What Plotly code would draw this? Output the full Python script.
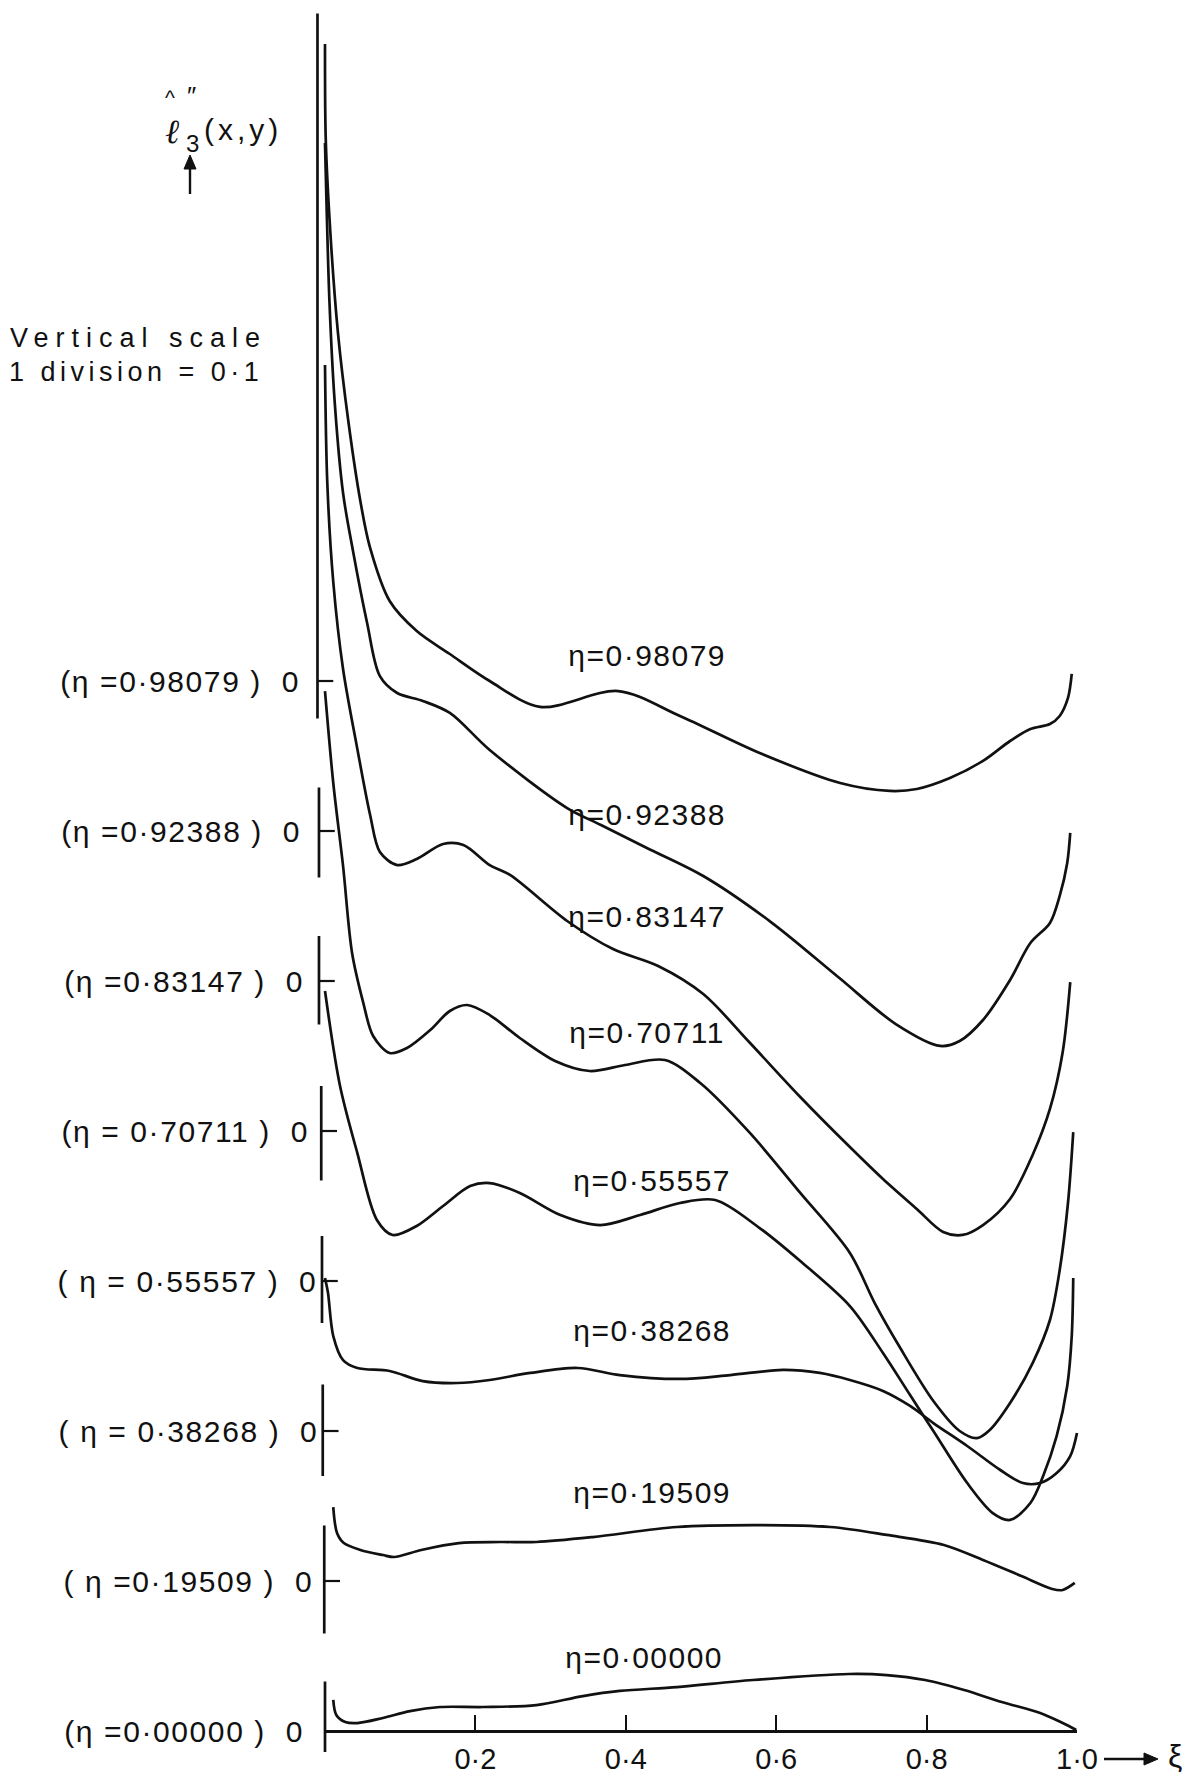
import plotly.graph_objects as go

# ---------------- data ----------------
# vertical values are in "row units": 1 unit = spacing between two successive zero lines
eta_names = ["0·00000", "0·19509", "0·38268", "0·55557", "0·70711", "0·83147", "0·92388", "0·98079"]

xi_00000 = [0.011, 0.015, 0.027, 0.043, 0.077, 0.113, 0.153, 0.210, 0.281, 0.343, 0.392, 0.468, 0.569, 0.697, 0.747, 0.798, 0.850, 0.900, 0.951, 0.981, 0.999]
v_00000 = [0.207, 0.107, 0.06, 0.053, 0.087, 0.133, 0.16, 0.16, 0.173, 0.233, 0.267, 0.293, 0.34, 0.38, 0.373, 0.34, 0.273, 0.193, 0.12, 0.053, 0.007]

xi_19509 = [0.011, 0.016, 0.025, 0.047, 0.077, 0.092, 0.128, 0.178, 0.233, 0.281, 0.356, 0.468, 0.569, 0.672, 0.747, 0.823, 0.875, 0.926, 0.967, 0.981, 0.997]
v_19509 = [0.493, 0.32, 0.253, 0.207, 0.173, 0.16, 0.207, 0.253, 0.26, 0.26, 0.293, 0.36, 0.373, 0.36, 0.307, 0.24, 0.14, 0.033, -0.053, -0.06, -0.013]

xi_38268 = [0.000, 0.004, 0.011, 0.024, 0.043, 0.086, 0.130, 0.176, 0.219, 0.273, 0.336, 0.392, 0.472, 0.539, 0.609, 0.658, 0.698, 0.742, 0.778, 0.809, 0.854, 0.898, 0.928, 0.951, 0.973, 0.991, 1.000]
v_38268 = [1.02, 0.92, 0.633, 0.473, 0.42, 0.4, 0.333, 0.32, 0.34, 0.387, 0.42, 0.373, 0.347, 0.373, 0.407, 0.387, 0.34, 0.267, 0.167, 0.053, -0.1, -0.26, -0.347, -0.347, -0.28, -0.167, -0.013]

xi_55557 = [0.000, 0.020, 0.043, 0.069, 0.090, 0.122, 0.157, 0.193, 0.219, 0.259, 0.313, 0.366, 0.419, 0.472, 0.519, 0.578, 0.632, 0.698, 0.742, 0.778, 0.809, 0.854, 0.888, 0.911, 0.938, 0.955, 0.973, 0.987, 0.993, 0.995]
v_55557 = [1.933, 1.3, 0.853, 0.407, 0.307, 0.367, 0.5, 0.633, 0.653, 0.587, 0.44, 0.373, 0.44, 0.52, 0.54, 0.353, 0.133, -0.167, -0.48, -0.76, -1.0, -1.347, -1.547, -1.593, -1.48, -1.3, -1.033, -0.7, -0.367, 0.02]

xi_70711 = [0.000, 0.011, 0.024, 0.036, 0.051, 0.064, 0.086, 0.109, 0.140, 0.166, 0.189, 0.219, 0.259, 0.306, 0.352, 0.399, 0.452, 0.499, 0.565, 0.632, 0.698, 0.731, 0.765, 0.809, 0.844, 0.867, 0.884, 0.911, 0.941, 0.964, 0.977, 0.988, 0.995]
v_70711 = [2.933, 2.32, 1.767, 1.187, 0.853, 0.633, 0.52, 0.553, 0.673, 0.8, 0.84, 0.773, 0.62, 0.467, 0.4, 0.44, 0.473, 0.32, -0.013, -0.413, -0.813, -1.147, -1.447, -1.8, -2.0, -2.047, -1.993, -1.813, -1.547, -1.26, -0.927, -0.48, -0.007]

xi_83147 = [0.000, 0.003, 0.011, 0.024, 0.043, 0.060, 0.073, 0.096, 0.122, 0.157, 0.184, 0.219, 0.246, 0.322, 0.383, 0.443, 0.503, 0.564, 0.632, 0.698, 0.742, 0.787, 0.822, 0.848, 0.875, 0.911, 0.941, 0.964, 0.981, 0.991]
v_83147 = [4.107, 3.327, 2.66, 2.08, 1.547, 1.107, 0.86, 0.773, 0.813, 0.913, 0.907, 0.773, 0.707, 0.4, 0.213, 0.1, -0.087, -0.407, -0.773, -1.107, -1.32, -1.52, -1.673, -1.693, -1.627, -1.453, -1.16, -0.853, -0.473, -0.007]

xi_92388 = [0.000, 0.002, 0.006, 0.013, 0.024, 0.037, 0.056, 0.073, 0.096, 0.130, 0.166, 0.219, 0.322, 0.367, 0.428, 0.503, 0.593, 0.684, 0.759, 0.818, 0.844, 0.875, 0.911, 0.938, 0.964, 0.977, 0.987, 0.991]
v_92388 = [4.587, 4.187, 3.52, 2.853, 2.253, 1.873, 1.387, 1.033, 0.92, 0.867, 0.787, 0.54, 0.153, 0.04, -0.113, -0.3, -0.607, -0.98, -1.287, -1.433, -1.4, -1.26, -0.993, -0.747, -0.613, -0.433, -0.213, -0.013]

xi_98079 = [0.000, 0.001, 0.007, 0.017, 0.031, 0.047, 0.060, 0.086, 0.122, 0.166, 0.219, 0.286, 0.390, 0.472, 0.578, 0.685, 0.751, 0.787, 0.831, 0.875, 0.911, 0.938, 0.964, 0.977, 0.988, 0.993]
v_98079 = [4.247, 3.613, 3.0, 2.333, 1.733, 1.2, 0.887, 0.533, 0.333, 0.18, 0.0, -0.173, -0.067, -0.233, -0.48, -0.68, -0.733, -0.72, -0.647, -0.533, -0.4, -0.32, -0.287, -0.233, -0.113, 0.047]

xi_tick_vals = [0.2, 0.4, 0.6, 0.8, 1.0]
xi_tick_text = ["0·2", "0·4", "0·6", "0·8", "1·0"]

series_xi = [xi_00000, xi_19509, xi_38268, xi_55557, xi_70711, xi_83147, xi_92388, xi_98079]
series_v = [v_00000, v_19509, v_38268, v_55557, v_70711, v_83147, v_92388, v_98079]

# ---------------- layout constants ----------------
W, H = 1199, 1779
X0_PX, XSCALE = 325, 752          # pixel of xi=0, pixels per unit xi
Y0_PX, YSCALE = 1731, 150         # pixel of lowest zero line, pixels per row unit
row_offsets = [0, 1, 2, 3, 4, 5, 6, 7]
INK = "#111111"
FONT = "Liberation Sans, Arial, sans-serif"
LW = 2.7

fig = go.Figure()
for k, (xs, vs) in enumerate(zip(series_xi, series_v)):
    fig.add_trace(go.Scatter(
        x=xs, y=[row_offsets[k] + v for v in vs], mode="lines",
        line=dict(color=INK, width=LW, shape="spline", smoothing=0.9),
        xaxis="x2" if k == 0 else "x", yaxis="y",
        name="η=" + eta_names[k], showlegend=False, hoverinfo="skip"))

# per-row little zero axes (vertical bar + tick), positions in xi / row units
bar_x = [0.0, -0.001, -0.003, -0.004, -0.005, -0.008, -0.008, -0.010]
bar_up = [0.33, 0.37, 0.31, 0.30, 0.30, 0.30, 0.29, 4.45]
bar_dn = [0.14, 0.35, 0.30, 0.28, 0.33, 0.29, 0.31, 0.25]
shapes = []
for k in range(8):
    b = row_offsets[k]
    shapes.append(dict(type="line", xref="x", yref="y", x0=bar_x[k], x1=bar_x[k],
                       y0=b - bar_dn[k], y1=b + bar_up[k], line=dict(color=INK, width=LW)))
    if k > 0:
        shapes.append(dict(type="line", xref="x", yref="y", x0=bar_x[k], x1=bar_x[k] + 0.021,
                           y0=b, y1=b, line=dict(color=INK, width=2.2)))


def pp(px, py):
    return px / W, 1 - py / H


def arrow_up(px, py_head, py_tail, hw=6, hl=14):
    x, yt = pp(px, py_tail)
    _, yh = pp(px, py_head)
    _, yb = pp(px, py_head + hl)
    shapes.append(dict(type="line", xref="paper", yref="paper", x0=x, x1=x, y0=yt, y1=yb,
                       line=dict(color=INK, width=2.4)))
    xl, _ = pp(px - hw, 0)
    xr, _ = pp(px + hw, 0)
    shapes.append(dict(type="path", xref="paper", yref="paper",
                       path=f"M {xl} {yb} L {x} {yh} L {xr} {yb} Z",
                       fillcolor=INK, line=dict(color=INK, width=1)))


def arrow_right(px_tail, px_head, py, hw=6, hl=14):
    xt, y = pp(px_tail, py)
    xh, _ = pp(px_head, py)
    xb, _ = pp(px_head - hl, py)
    shapes.append(dict(type="line", xref="paper", yref="paper", x0=xt, x1=xb, y0=y, y1=y,
                       line=dict(color=INK, width=2.4)))
    _, yu = pp(0, py - hw)
    _, yd = pp(0, py + hw)
    shapes.append(dict(type="path", xref="paper", yref="paper",
                       path=f"M {xb} {yu} L {xh} {y} L {xb} {yd} Z",
                       fillcolor=INK, line=dict(color=INK, width=1)))


arrow_up(190, 155, 194)
arrow_right(1104, 1158, 1759)

annotations = []
# left labels
left_text = ["(η =0·00000 )  0", "( η =0·19509 )  0", "( η = 0·38268 )  0", "( η = 0·55557 )  0",
             "(η = 0·70711 )  0", "(η =0·83147 )  0", "(η =0·92388 )  0", "(η =0·98079 )  0"]
left_cx = [184, 188, 188, 187, 185, 184, 181, 180]
for k in range(8):
    annotations.append(dict(text=left_text[k], xref="paper", yref="y", x=left_cx[k] / W, y=row_offsets[k],
                            xanchor="center", yanchor="middle", showarrow=False,
                            font=dict(family=FONT, size=30, color=INK)))
# labels on the curves
mid_cx = [644, 652, 652, 652, 647, 647, 647, 647]
mid_dy = [0.49, 0.59, 0.67, 0.67, 0.66, 0.43, 0.11, 0.17]
for k in range(8):
    annotations.append(dict(text="η=" + eta_names[k], xref="x", yref="y",
                            x=(mid_cx[k] - X0_PX) / XSCALE, y=row_offsets[k] + mid_dy[k],
                            xanchor="center", yanchor="middle", showarrow=False,
                            font=dict(family=FONT, size=30, color=INK)))

# y label  ℓ̂″3(x,y), built from pieces
for txt, cx, cy, size, fam in [
    ("<i>ℓ</i>", 172, 131, 34, "DejaVu Serif, serif"),
    ("^", 170, 97, 21, FONT),
    ("″", 191, 96, 26, FONT),
    ("3", 192, 143, 24, FONT),
    ("(x,y)", 243, 129, 30, FONT),
]:
    x_, y_ = pp(cx, cy)
    annotations.append(dict(text=txt, xref="paper", yref="paper", x=x_, y=y_, xanchor="center",
                            yanchor="middle", showarrow=False, borderpad=0,
                            font=dict(family=fam, size=size, color=INK)))
# scale note
for txt, cx, cy in [("Vertical scale", 138, 338), ("1 division = 0·1", 136, 372)]:
    x_, y_ = pp(cx, cy)
    annotations.append(dict(text=txt, xref="paper", yref="paper", x=x_, y=y_, xanchor="center",
                            yanchor="middle", showarrow=False,
                            font=dict(family=FONT, size=27, color=INK)))
# xi symbol
sx, sy = pp(1175, 1756)
annotations.append(dict(text="ξ", xref="paper", yref="paper", x=sx, y=sy, xanchor="center",
                        yanchor="middle", showarrow=False, font=dict(family=FONT, size=32, color=INK)))

fig.update_layout(
    width=W, height=H, autosize=False, margin=dict(l=0, r=0, t=0, b=0, pad=0),
    paper_bgcolor="white", plot_bgcolor="rgba(0,0,0,0)", showlegend=False,
    xaxis=dict(domain=[0, 1], range=[-X0_PX / XSCALE, (W - X0_PX) / XSCALE], visible=False),
    yaxis=dict(domain=[0, 1], range=[(Y0_PX - H) / YSCALE, Y0_PX / YSCALE], visible=False),
    xaxis2=dict(domain=[X0_PX / W, (X0_PX + XSCALE) / W], range=[0, 1], anchor="free",
                position=(H - Y0_PX) / H, showline=True, linecolor=INK, linewidth=LW,
                ticks="inside", ticklen=15, tickwidth=2.2, tickcolor=INK,
                tickvals=xi_tick_vals, ticktext=xi_tick_text, ticklabelstandoff=1,
                tickfont=dict(family=FONT, size=29, color=INK),
                showgrid=False, zeroline=False, automargin=False),
    shapes=shapes, annotations=annotations,
)

post = """
(function(){
  try {
    document.documentElement.style.margin = '0';
    document.documentElement.style.padding = '0';
    document.documentElement.style.overflow = 'hidden';
    document.body.style.margin = '0';
    document.body.style.padding = '0';
    document.body.style.overflow = 'hidden';
  } catch(e) {}
  function fix(){
    document.querySelectorAll('.annotation-text').forEach(function(t){
      var s = t.textContent || '';
      var ls = null;
      if (s.indexOf('Vertical') === 0) ls = '7px';
      else if (s.indexOf('1 division') === 0) ls = '4.5px';
      else if (s.indexOf('η=') === 0) ls = '1.5px';
      else if (s.indexOf('(x') === 0) ls = '4px';
      else if (s.indexOf('(') === 0) ls = '1.6px';
      if (ls) t.style.letterSpacing = ls;
    });
  }
  fix(); setTimeout(fix, 30); setTimeout(fix, 200);
})();
"""
fig.write_html("out.html", post_script=post, config={"responsive": False, "displayModeBar": False})
